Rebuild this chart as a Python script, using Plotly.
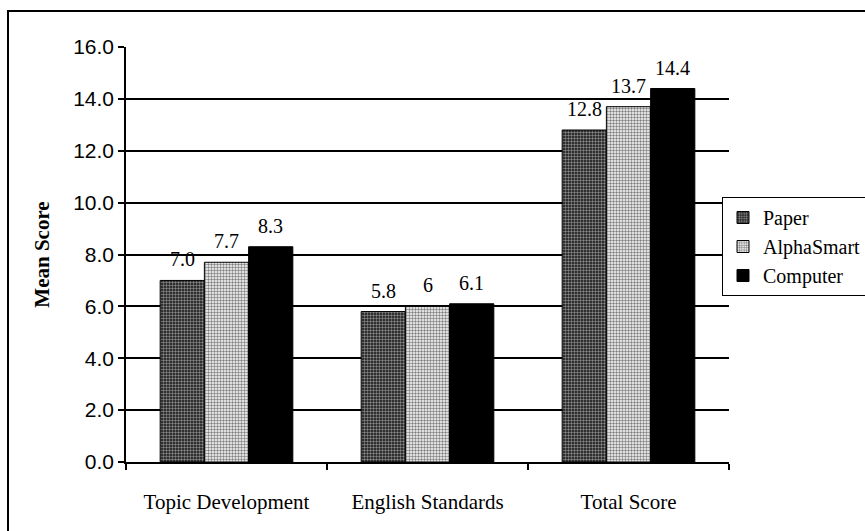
import plotly.graph_objects as go

# Mean writing scores by composition mode
categories = ["Topic Development", "English Standards", "Total Score"]
series_names = ["Paper", "AlphaSmart", "Computer"]
paper_scores = [7.0, 5.8, 12.8]
alphasmart_scores = [7.7, 6.0, 13.7]
computer_scores = [8.3, 6.1, 14.4]
paper_labels = ["7.0", "5.8", "12.8"]
alphasmart_labels = ["7.7", "6", "13.7"]
computer_labels = ["8.3", "6.1", "14.4"]
y_ticks = [0, 2, 4, 6, 8, 10, 12, 14, 16]

series_values = [paper_scores, alphasmart_scores, computer_scores]
series_labels = [paper_labels, alphasmart_labels, computer_labels]
patterns = [
    dict(shape=".", size=3, solidity=0.5, fgcolor="white", bgcolor="#111111"),
    dict(shape=".", size=3, solidity=0.5, fgcolor="black", bgcolor="white"),
    dict(shape="", fgcolor="black", bgcolor="black"),
]
fills = ["#555555", "#bbbbbb", "black"]

BARGAP = 0.34
bar_w = (1 - BARGAP) / 3

fig = go.Figure()
for name, vals, pat, fill in zip(series_names, series_values, patterns, fills):
    fig.add_trace(go.Bar(
        name=name, x=categories, y=vals,
        marker=dict(color=fill if pat["shape"] == "" else pat["bgcolor"],
                    pattern=pat, line=dict(color="black", width=1)),
    ))

serif = "Liberation Serif, Times New Roman, serif"
sans = "Liberation Sans, Arial, sans-serif"

annotations = []
for j, (vals, labs) in enumerate(zip(series_values, series_labels)):
    for i, (v, lab) in enumerate(zip(vals, labs)):
        annotations.append(dict(
            x=i + (j - 1) * bar_w, y=v, xref="x", yref="y",
            text=lab, showarrow=False, yanchor="bottom", yshift=8,
            font=dict(family=serif, size=20, color="black"),
        ))

L, R, T, B = 126, 136, 47, 69
W, H = 865, 531
pw, ph = W - L - R, H - T - B

fig.update_layout(
    width=W, height=H,
    margin=dict(l=L, r=R, t=T, b=B, pad=0, autoexpand=False),
    paper_bgcolor="white", plot_bgcolor="white",
    barmode="group", bargap=BARGAP, bargroupgap=0,
    annotations=annotations,
    legend=dict(
        x=(722 - L) / pw, y=(T + ph - 197) / ph, xanchor="left", yanchor="top",
        bordercolor="black", borderwidth=1, bgcolor="white",
        font=dict(family=serif, size=20, color="black"),
        tracegroupgap=0, itemwidth=30,
    ),
    shapes=[dict(
        type="rect", xref="paper", yref="paper",
        x0=(8 - L) / pw, x1=(880 - L) / pw,
        y0=(T + ph - 545) / ph, y1=(T + ph - 11) / ph,
        line=dict(color="black", width=2), fillcolor="rgba(0,0,0,0)",
    )],
)

fig.update_xaxes(
    range=[-0.5, 2.5], showline=True, linecolor="black", linewidth=1.5,
    ticks="outside", tickson="boundaries", ticklen=6, tickcolor="black",
    tickwidth=1.5, ticklabelstandoff=20,
    tickfont=dict(family=serif, size=21, color="black"), showgrid=False,
)
fig.update_yaxes(
    range=[0, 16], tickvals=y_ticks, tickformat=".1f",
    showline=True, linecolor="black", linewidth=1.5,
    ticks="outside", ticklen=6, tickcolor="black", tickwidth=1.5,
    showgrid=True, gridcolor="black", gridwidth=1.5, zeroline=False,
    tickfont=dict(family=sans, size=21, color="black"),
    title=dict(text="<b>Mean Score</b>", standoff=18,
               font=dict(family=serif, size=21, color="black")),
)

fig.write_html("out.html")
